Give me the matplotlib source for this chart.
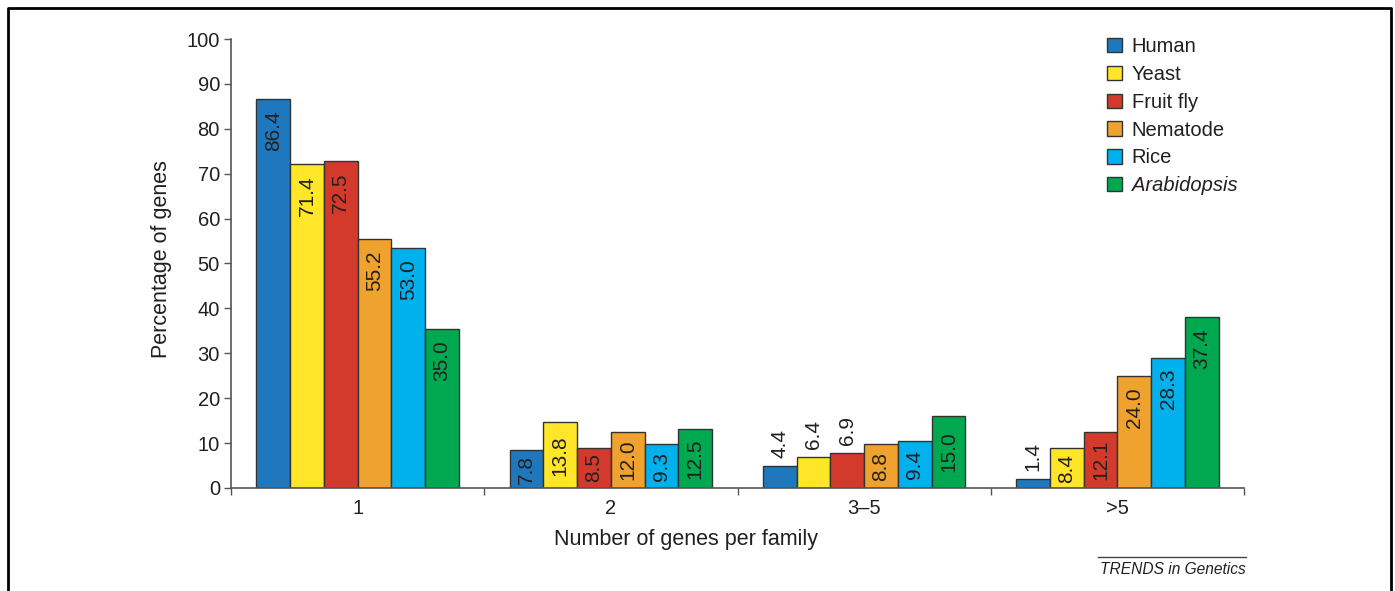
import matplotlib
matplotlib.use("Agg")
from matplotlib import pyplot as plt
from matplotlib.lines import Line2D
import numpy as np

# data
groups = ["1", "2", "3\u20135", ">5"]
species = ["Human", "Yeast", "Fruit fly", "Nematode", "Rice", "Arabidopsis"]
colors = ["#1f78be", "#ffe629", "#d43a2c", "#f0a22e", "#00b1ee", "#00a84f"]

# bar heights as drawn
human = [86.6, 8.4, 4.8, 2.0]
yeast = [72.1, 14.6, 6.9, 8.9]
fruitfly = [72.8, 9.0, 7.7, 12.4]
nematode = [55.4, 12.5, 9.7, 24.9]
rice = [53.4, 9.7, 10.4, 29.0]
arabidopsis = [35.4, 13.2, 16.0, 38.1]

# printed values
human_lab = [86.4, 7.8, 4.4, 1.4]
yeast_lab = [71.4, 13.8, 6.4, 8.4]
fruitfly_lab = [72.5, 8.5, 6.9, 12.1]
nematode_lab = [55.2, 12.0, 8.8, 24.0]
rice_lab = [53.0, 9.3, 9.4, 28.3]
arabidopsis_lab = [35.0, 12.5, 15.0, 37.4]

heights = [human, yeast, fruitfly, nematode, rice, arabidopsis]
labels = [human_lab, yeast_lab, fruitfly_lab, nematode_lab, rice_lab, arabidopsis_lab]

plt.rcParams['font.family'] = ['Liberation Sans', 'DejaVu Sans']
txtc = "#231f20"
axc = "#555555"

fig = plt.figure(figsize=(13.95, 5.91), dpi=100)
ax = fig.add_axes([0.1656, 0.1743, 0.7262, 0.7597])

x = np.arange(len(groups))
w = 0.8 / len(species)
for i, (sp, c) in enumerate(zip(species, colors)):
    xs = x - 0.4 + w * (i + 0.5)
    ax.bar(xs, heights[i], width=w, color=c, edgecolor="#333333", linewidth=1.0, label=sp, zorder=2)
    for xi, h, lab in zip(xs, heights[i], labels[i]):
        s = "%.1f" % lab
        if lab < 7.5:
            ax.annotate(s, (xi, h), xytext=(0, 6), textcoords="offset points",
                        rotation=90, ha="center", va="bottom", fontsize=15, color=txtc)
        elif lab < 16:
            ax.text(xi, h / 2, s, rotation=90, ha="center", va="center", fontsize=15, color=txtc)
        else:
            ax.annotate(s, (xi, h), xytext=(0, -8), textcoords="offset points",
                        rotation=90, ha="center", va="top", fontsize=15, color=txtc)

ax.set_xlim(-0.5, 3.5)
ax.set_ylim(0, 100)
ax.set_yticks(np.arange(0, 101, 10))
ax.set_xticks(np.arange(-0.5, 3.6, 1.0))
ax.set_xticklabels([])
ax.set_xticks(x, minor=True)
ax.set_xticklabels(groups, minor=True)
ax.tick_params(axis="x", which="minor", length=0, pad=8, labelsize=14.5, labelcolor=txtc)
ax.tick_params(axis="x", which="major", length=5, width=1, color=axc, direction="out")
ax.tick_params(axis="y", length=5, width=1, color=axc, labelsize=14.5, labelcolor=txtc, pad=3)
for sp in ["top", "right"]:
    ax.spines[sp].set_visible(False)
for sp in ["left", "bottom"]:
    ax.spines[sp].set_color(axc)
    ax.spines[sp].set_linewidth(1.2)

ax.set_ylabel("Percentage of genes", fontsize=15.5, color=txtc)
ax.yaxis.set_label_coords(-0.058, 0.51)
ax.set_xlabel("Number of genes per family", fontsize=15.5, color=txtc)
ax.xaxis.set_label_coords(0.449, -0.092)

leg = ax.legend(loc="upper left", bbox_to_anchor=(1107 / 1395, 1 - 37 / 591),
                bbox_transform=fig.transFigure, frameon=False, fontsize=14.5,
                handlelength=0.72, handleheight=0.72, handletextpad=0.5,
                labelspacing=0.44, borderaxespad=0, borderpad=0)
for t in leg.get_texts():
    t.set_color(txtc)
leg.get_texts()[5].set_style("italic")

# credit line
fig.add_artist(Line2D([1098 / 1395, 1246 / 1395], [1 - 557 / 591] * 2, color="#444444", lw=1))
fig.text(1246 / 1395, 1 - 569 / 591, "TRENDS in Genetics", ha="right", va="center",
         fontsize=11.2, style="italic", color=txtc)

# outer frame (bottom edge is cut off)
fig.add_artist(Line2D([8 / 1395, 8 / 1395, 1391 / 1395, 1391 / 1395],
                      [0, 1 - 8 / 591, 1 - 8 / 591, 0], color="black", lw=2))

fig.savefig("out.png", dpi=100)
